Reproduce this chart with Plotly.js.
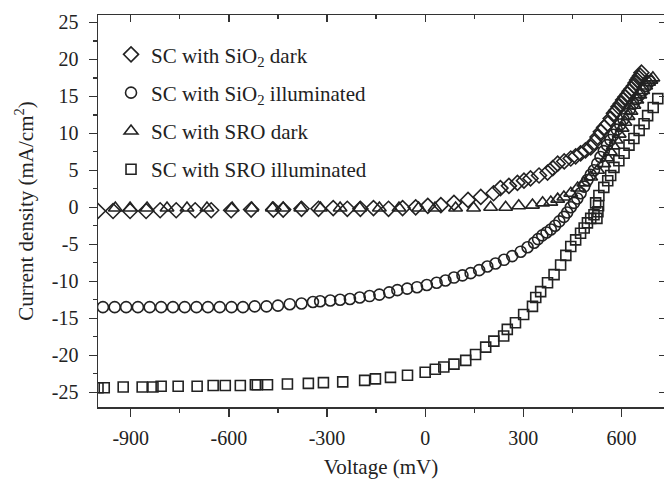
<!DOCTYPE html>
<html>
<head>
<meta charset="utf-8">
<script src="https://cdn.plot.ly/plotly-3.0.1.min.js"></script>
<style>html,body{margin:0;padding:0;background:#fff;}#chart{width:664px;height:479px;}</style>
</head>
<body>
<div id="chart"></div>
<script>
// SC with SiO2 dark (diamonds)
const sio2DarkV = [-1000,-954,-902,-853,-810,-761,-703,-654,-593,-532,-464,-434,-378,-326,-281,-238,-198,-158,-112,-69,-29,8,48,88,131,170,209,230,256,282,302,322,348,374,390,405,425,445,460,475,490,506,517,527,537,547,558,567,577,584,591,598,605,612,619,625,631,638,643,648,653,657,661];
const sio2DarkJ = [-0.5,-0.5,-0.5,-0.5,-0.4,-0.4,-0.4,-0.4,-0.4,-0.3,-0.3,-0.3,-0.2,-0.2,-0.1,-0.2,-0.2,-0.1,-0.2,-0.1,0.0,0.2,0.3,0.6,1.0,1.4,1.9,2.6,2.9,3.3,3.6,3.9,4.3,4.7,5.3,5.9,6.2,6.6,6.9,7.3,7.7,8.1,8.8,9.5,10.2,10.8,11.3,12.0,12.7,13.1,13.6,14.0,14.5,14.9,15.3,15.7,16.0,16.4,16.8,17.2,17.5,17.8,18.2];

// SC with SiO2 illuminated (circles)
const sio2IllV = [-985,-949,-914,-878,-842,-807,-771,-735,-699,-664,-628,-592,-557,-521,-485,-450,-414,-378,-343,-321,-290,-260,-230,-200,-170,-140,-110,-85,-55,-25,5,35,62,88,114,139,165,190,215,241,266,292,313,333,345,358,371,384,397,410,424,434,445,455,465,475,486,496,506,516,526,536,546,556,566,576,586,596,606,616,626,636,646,656,666,676,686];
const sio2IllJ = [-13.5,-13.5,-13.5,-13.5,-13.5,-13.5,-13.5,-13.5,-13.5,-13.5,-13.5,-13.5,-13.5,-13.4,-13.4,-13.3,-13.1,-13.0,-12.8,-12.7,-12.6,-12.5,-12.4,-12.2,-12.0,-11.8,-11.5,-11.2,-11.0,-10.8,-10.5,-10.2,-9.9,-9.5,-9.2,-8.9,-8.5,-8.0,-7.6,-7.1,-6.6,-6.0,-5.4,-4.8,-4.3,-3.8,-3.4,-3.0,-2.5,-1.9,-1.3,-0.7,0.0,0.6,1.2,1.9,2.8,3.7,4.4,5.0,5.9,6.8,7.6,8.4,9.1,9.8,10.5,11.2,11.9,12.6,13.3,14.0,14.6,15.2,15.8,16.4,17.0];

// SC with SRO dark (triangles)
const sroDarkV = [-947,-902,-850,-789,-728,-667,-590,-530,-467,-434,-380,-320,-260,-200,-140,-80,-20,30,93,148,200,246,286,328,359,384,405,424,445,466,485,506,527,546,556,566,575,584,593,602,611,620,629,638,647,656,665,674,683,690,696];
const sroDarkJ = [-0.1,-0.1,-0.1,-0.1,-0.1,-0.1,-0.1,-0.1,-0.1,-0.1,-0.1,-0.1,-0.1,-0.1,-0.1,-0.1,-0.1,-0.1,-0.1,-0.1,0.0,0.0,0.2,0.3,0.6,0.7,1.1,1.4,1.9,2.6,3.3,4.1,5.0,5.9,6.7,7.5,8.3,9.1,9.9,10.7,11.5,12.3,13.0,13.8,14.5,15.2,15.8,16.4,16.9,17.2,17.5];

// SC with SRO illuminated (squares)
const sroIllV = [-1000,-981,-923,-865,-832,-807,-755,-697,-648,-611,-565,-519,-513,-482,-421,-357,-311,-252,-185,-152,-106,-54,0,31,57,88,124,154,185,210,240,251,276,301,328,338,353,374,394,414,430,445,460,475,486,496,506,516,525,528,530,521,531,546,558,567,577,592,608,623,638,654,669,680,697,711];
const sroIllJ = [-24.4,-24.4,-24.3,-24.3,-24.3,-24.2,-24.2,-24.2,-24.1,-24.1,-24.1,-24.0,-24.0,-24.0,-23.9,-23.8,-23.7,-23.6,-23.4,-23.2,-23.0,-22.7,-22.3,-21.9,-21.6,-21.2,-20.7,-19.9,-18.9,-18.1,-17.4,-16.5,-15.6,-14.5,-13.4,-12.2,-11.4,-10.2,-9.1,-7.8,-6.5,-5.3,-4.4,-3.5,-2.8,-2.1,-1.5,-1.0,-1.5,-0.6,0.2,0.6,1.6,2.7,3.6,4.3,5.4,6.3,7.3,8.4,9.3,10.4,11.3,12.4,13.5,14.7];

const seriesNames = ['SC with SiO<sub>2</sub> dark','SC with SiO<sub>2</sub> illuminated','SC with SRO dark','SC with SRO illuminated'];
const xTickVals = [-900,-600,-300,0,300,600];
const yTickVals = [-25,-20,-15,-10,-5,0,5,10,15,20,25];

const ink = '#222';
const fontFam = '"Liberation Serif", "Times New Roman", serif';
function mk(x, y, name, symbol, size, grp) {
  return {x: x, y: y, name: name, type: 'scatter', mode: 'markers', legendgroup: grp,
    marker: {symbol: symbol, size: size, color: ink, line: {color: ink, width: 1.6}}};
}
const traces = [
  mk(sio2DarkV, sio2DarkJ, seriesNames[0], 'diamond-open', 11.5, 'a'),
  mk(sio2IllV, sio2IllJ, seriesNames[1], 'circle-open', 11, 'b'),
  mk(sroDarkV, sroDarkJ, seriesNames[2], 'triangle-up-open', 12, 'c'),
  mk(sroIllV, sroIllJ, seriesNames[3], 'square-open', 10, 'd'),
  {x: [null], y: [null], xaxis: 'x2', yaxis: 'y2', type: 'scatter', mode: 'markers', showlegend: false, hoverinfo: 'skip'}
];
const axLine = '#333';
const layout = {
  width: 664, height: 479,
  margin: {l: 98, r: 0, t: 15, b: 72},
  paper_bgcolor: '#fff', plot_bgcolor: '#fff',
  font: {family: fontFam, size: 20, color: '#222'},
  showlegend: true,
  legend: {x: 0.023, y: 0.951, xanchor: 'left', yanchor: 'top', bgcolor: 'rgba(0,0,0,0)',
    font: {family: fontFam, size: 21, color: '#222'}, tracegroupgap: 8, itemwidth: 30},
  xaxis: {range: [-1000, 730], tickvals: xTickVals, ticktext: xTickVals.map(String),
    ticks: 'outside', ticklen: 8, tickwidth: 1.3, tickcolor: axLine,
    showline: true, linecolor: axLine, linewidth: 1.5, showgrid: false, zeroline: false,
    minor: {tickvals: [-750,-450,-150,150,450], ticks: 'outside', ticklen: 4, tickwidth: 1.3, tickcolor: axLine},
    tickfont: {family: fontFam, size: 20}, ticklabelstandoff: 4,
    title: {text: 'Voltage (mV)', font: {family: fontFam, size: 21}, standoff: 13}},
  yaxis: {range: [-27, 26], tickvals: yTickVals, ticktext: yTickVals.map(String),
    ticks: 'outside', ticklen: 8, tickwidth: 1.3, tickcolor: axLine,
    showline: true, linecolor: axLine, linewidth: 1.5, showgrid: false, zeroline: false,
    minor: {tickvals: [-22.5,-17.5,-12.5,-7.5,-2.5,2.5,7.5,12.5,17.5,22.5], ticks: 'outside', ticklen: 4, tickwidth: 1.3, tickcolor: axLine},
    tickfont: {family: fontFam, size: 20}, ticklabelstandoff: 6,
    title: {text: 'Current density (mA/cm<sup>2</sup>)', font: {family: fontFam, size: 21}, standoff: 12}},
  xaxis2: {overlaying: 'x', anchor: 'y2', side: 'top', matches: 'x', range: [-1000, 730], tickvals: xTickVals,
    showticklabels: false, ticks: 'inside', ticklen: 7, tickwidth: 1.3, tickcolor: axLine,
    showline: true, linecolor: axLine, linewidth: 1.5, showgrid: false, zeroline: false,
    minor: {tickvals: [-750,-450,-150,150,450], ticks: 'inside', ticklen: 4, tickwidth: 1.3, tickcolor: axLine}},
  yaxis2: {overlaying: 'y', anchor: 'x2', side: 'right', matches: 'y', range: [-27, 26], tickvals: yTickVals,
    showticklabels: false, ticks: 'inside', ticklen: 5, tickwidth: 1.3, tickcolor: axLine,
    showline: false, showgrid: false, zeroline: false}
};
Plotly.newPlot('chart', traces, layout, {staticPlot: true, displayModeBar: false});
</script>
</body>
</html>
